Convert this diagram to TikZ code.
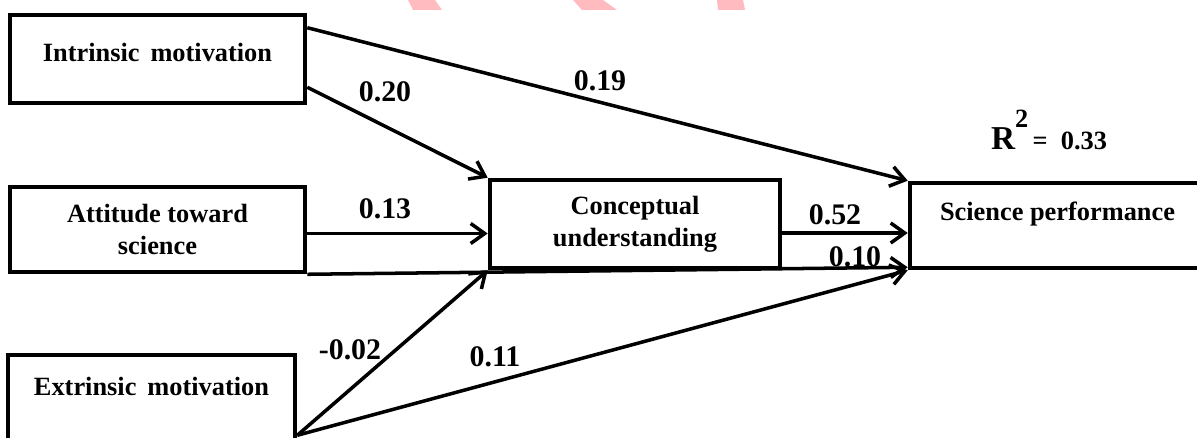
\documentclass[tikz,border=0pt]{standalone}
\usepackage{fontspec}
\setmainfont{Liberation Serif}
\usetikzlibrary{arrows.meta}
\definecolor{wmpink}{RGB}{255,187,192}

\begin{document}
\begin{tikzpicture}[box/.style = {draw, line width = 2.6pt, align = center, font = \bfseries\fontsize{15}{18}\selectfont},
    effect/.style = {line width = 2pt, -{Straight Barb[length = 2.8mm, width = 4mm]}},
    coef/.style = {font = \bfseries\fontsize{17}{20}\selectfont}]
    \useasboundingbox (0,0) rectangle (23.94,-8.76);
    % watermark pieces at the top edge
    \fill[wmpink] (8.16,0) -- (8.70,0) -- (8.84,-0.2) -- (8.26,-0.2) -- cycle;
    \fill[wmpink] (11.46,0) -- (12.06,0) -- (12.34,-0.2) -- (11.64,-0.2) -- cycle;
    \fill[wmpink] (14.34,0) -- (14.86,0) -- (14.90,-0.2) -- (14.36,-0.2) -- cycle;
    % constructs
    \node[box, minimum width = 5.9cm, minimum height = 1.76cm, text depth = 0.28cm] (intr) at (3.15,-1.18) {Intrinsic\, motivation};
    \node[box, minimum width = 5.9cm, minimum height = 1.7cm] (att) at (3.15,-4.59) {Attitude toward\\science};
    \node[box, minimum width = 5.74cm, minimum height = 1.8cm, text depth = 0.56cm] (extr) at (3.03,-8.0) {Extrinsic\, motivation};
    \node[box, minimum width = 5.8cm, minimum height = 1.76cm] (conc) at (12.7,-4.48) {Conceptual\\understanding};
    \node[box, minimum width = 5.9cm, minimum height = 1.7cm, text depth = 0.58cm] (sci) at (21.15,-4.51) {Science performance};
    \coordinate (attr) at ([yshift = -0.08cm]att.east);
    \coordinate (concr) at ([yshift = -0.18cm]conc.east);
    \coordinate (exs) at ([yshift = 0.24cm]extr.south east);
    % paths
    \draw[effect] ([yshift = -0.3cm]intr.north east) -- (sci.north west);
    \draw[effect] ([yshift = 0.36cm]intr.south east) -- (conc.north west);
    \draw[effect] (attr) -- (attr -| conc.west);
    \draw[effect] (att.south east) -- ([yshift = 0.06cm]sci.south west);
    \draw[effect] (concr) -- (concr -| sci.west);
    \draw[effect] (exs) -- (conc.south west);
    \draw[effect] (exs) -- (sci.south west);
    % coefficients
    \node[coef] (c19) at (12.0,-1.62) {0.19};
    \node[coef] (c20) at (7.7,-1.84) {0.20};
    \node[coef] (c13) at (7.7,-4.18) {0.13};
    \node[coef] (c52) at (16.7,-4.3) {0.52};
    \node[coef] (c10) at (17.1,-5.14) {0.10};
    \node[coef] (c02) at (7.0,-7.0) {-0.02};
    \node[coef] (c11) at (9.9,-7.14) {0.11};
    \node[font = \bfseries\fontsize{15}{16}\selectfont] (rsq) at (20.98,-2.6) {{\fontsize{19}{20}\selectfont R}\raisebox{12pt}{2}\,=\ \ 0.33};
\end{tikzpicture}
\end{document}
